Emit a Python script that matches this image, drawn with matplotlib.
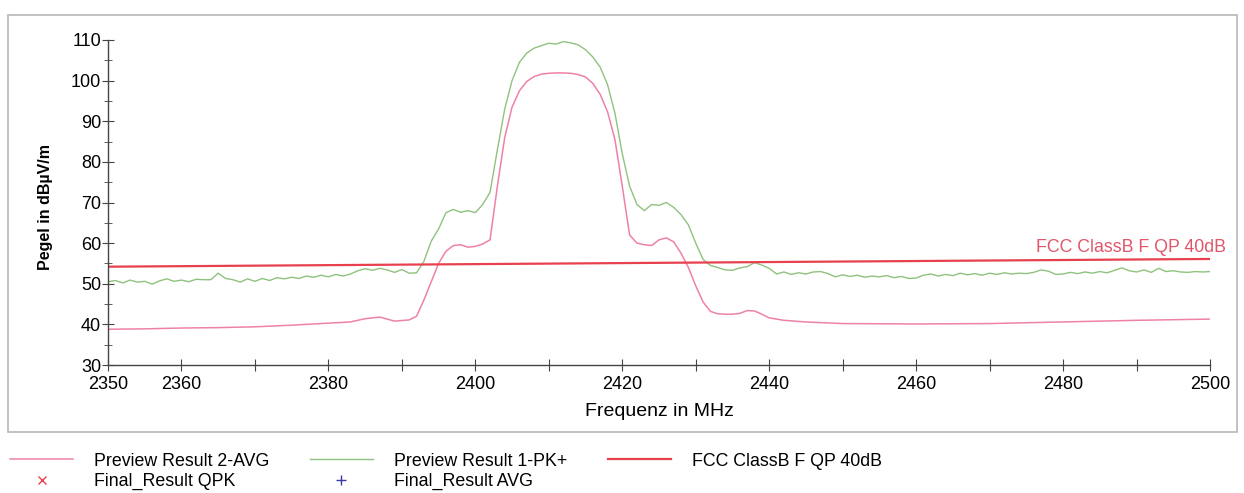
import numpy as np
import matplotlib.pyplot as plt
from matplotlib.patches import Rectangle
from matplotlib.ticker import MultipleLocator

plt.rcParams['font.family'] = ['Liberation Sans', 'DejaVu Sans']

# Preview Result 1-PK+ (green)
pk_freq = [2350, 2351, 2352, 2353, 2354, 2355, 2356, 2357, 2358, 2359,
           2360, 2361, 2362, 2363, 2364, 2365, 2366, 2367, 2368, 2369,
           2370, 2371, 2372, 2373, 2374, 2375, 2376, 2377, 2378, 2379,
           2380, 2381, 2382, 2383, 2384, 2385, 2386, 2387, 2388, 2389,
           2390, 2391, 2392, 2393, 2394, 2395, 2396, 2397, 2398, 2399,
           2400, 2401, 2402, 2403, 2404, 2405, 2406, 2407, 2408, 2409,
           2410, 2411, 2412, 2413, 2414, 2415, 2416, 2417, 2418, 2419,
           2420, 2421, 2422, 2423, 2424, 2425, 2426, 2427, 2428, 2429,
           2430, 2431, 2432, 2433, 2434, 2435, 2436, 2437, 2438, 2439,
           2440, 2441, 2442, 2443, 2444, 2445, 2446, 2447, 2448, 2449,
           2450, 2451, 2452, 2453, 2454, 2455, 2456, 2457, 2458, 2459,
           2460, 2461, 2462, 2463, 2464, 2465, 2466, 2467, 2468, 2469,
           2470, 2471, 2472, 2473, 2474, 2475, 2476, 2477, 2478, 2479,
           2480, 2481, 2482, 2483, 2484, 2485, 2486, 2487, 2488, 2489,
           2490, 2491, 2492, 2493, 2494, 2495, 2496, 2497, 2498, 2499, 2500]
pk_level = [50.5, 50.8, 50.2, 50.9, 50.4, 50.6, 49.9, 50.7, 51.2, 50.6,
            50.9, 50.5, 51.1, 51.0, 51.0, 52.6, 51.3, 51.0, 50.4, 51.2,
            50.6, 51.3, 50.8, 51.5, 51.2, 51.6, 51.3, 51.9, 51.6, 52.1,
            51.7, 52.3, 51.9, 52.4, 53.2, 53.7, 53.3, 53.8, 53.4, 52.8,
            53.5, 52.6, 52.7, 55.5, 60.5, 63.5, 67.5, 68.3, 67.6, 68.0,
            67.5, 69.5, 72.5, 83.0, 93.0, 100.0, 104.5, 106.8, 108.0, 108.6,
            109.2, 109.0, 109.6, 109.3, 108.8, 107.6, 105.8, 103.3, 99.0, 92.0,
            82.0, 74.0, 69.5, 68.0, 69.5, 69.3, 70.0, 68.8, 67.0, 64.5,
            60.0, 56.0, 54.5, 54.0, 53.4, 53.3, 53.9, 54.2, 55.2, 54.6,
            53.8, 52.4, 52.9, 52.3, 52.7, 52.4, 52.9, 53.0, 52.5, 51.7,
            52.2, 51.8, 52.1, 51.6, 51.9, 51.7, 52.0, 51.5, 51.8, 51.3,
            51.4, 52.1, 52.4, 51.9, 52.3, 52.0, 52.6, 52.2, 52.5, 52.1,
            52.6, 52.3, 52.7, 52.4, 52.6, 52.5, 52.8, 53.4, 53.1, 52.3,
            52.4, 52.8, 52.5, 52.9, 52.6, 53.0, 52.7, 53.3, 53.9, 53.2,
            52.9, 53.4, 52.8, 53.8, 53.0, 53.2, 52.9, 52.8, 53.0, 52.9, 53.0]

# Preview Result 2-AVG (pink)
avg_freq = [2350, 2355, 2360, 2365, 2370, 2375, 2380, 2383, 2385, 2387,
            2389, 2391, 2392, 2393, 2394, 2395, 2396, 2397, 2398, 2399,
            2400, 2401, 2402, 2403, 2404, 2405, 2406, 2407, 2408, 2409,
            2410, 2411, 2412, 2413, 2414, 2415, 2416, 2417, 2418, 2419,
            2420, 2421, 2422, 2423, 2424, 2425, 2426, 2427, 2428, 2429,
            2430, 2431, 2432, 2433, 2434, 2435, 2436, 2437, 2438, 2439,
            2440, 2442, 2445, 2450, 2460, 2470, 2480, 2490, 2500]
avg_level = [38.8, 38.9, 39.1, 39.2, 39.4, 39.8, 40.3, 40.6, 41.4, 41.8,
             40.8, 41.1, 42.0, 46.0, 50.5, 55.0, 58.0, 59.4, 59.6, 59.0,
             59.2, 59.8, 60.8, 74.0, 86.0, 93.5, 97.5, 99.8, 101.0, 101.6,
             101.8, 101.9, 101.9, 101.8, 101.5, 100.9, 99.3, 96.6, 92.3, 85.5,
             74.0, 62.0, 60.0, 59.6, 59.4, 60.8, 61.3, 60.3, 57.5, 54.0,
             49.5, 45.5, 43.2, 42.6, 42.5, 42.5, 42.7, 43.4, 43.3, 42.5,
             41.6, 41.0, 40.6, 40.2, 40.1, 40.2, 40.6, 41.0, 41.3]

# FCC ClassB F QP 40dB limit line
limit_freq = [2350, 2500]
limit_level = [54.2, 56.1]

x_ticks = list(range(2350, 2501, 10))
x_labels = ['2350', '2360', '', '2380', '', '2400', '', '2420', '',
            '2440', '', '2460', '', '2480', '', '2500']

fig = plt.figure(figsize=(12.44, 4.93), dpi=100)
fig.add_artist(Rectangle((8 / 1244, 1 - 432 / 493), 1229 / 1244, 417 / 493,
                         transform=fig.transFigure, fill=False,
                         edgecolor='#b8b8b8', linewidth=1.2))

ax = fig.add_axes([108 / 1244, 1 - 365 / 493, 1102 / 1244, 325 / 493])

pink = '#ee82a6'
green = '#8fc27e'
red = '#e8404f'

ax.plot(avg_freq, avg_level, color=pink, lw=1.1, label='Preview Result 2-AVG')
ax.plot([], [], 'x', color=red, markersize=6, label='Final_Result QPK')
ax.plot(pk_freq, pk_level, color=green, lw=1.0, label='Preview Result 1-PK+')
ax.plot([], [], '+', color='#3a3aa8', markersize=7, label='Final_Result AVG')
ax.plot(limit_freq, limit_level, color=red, lw=1.6, label='FCC ClassB F QP 40dB')

ax.text(2502.2, 58.8, 'FCC ClassB F QP 40dB', color='#e0566a', fontsize=12.8,
        ha='right', va='center', clip_on=False)

ax.set_xlim(2350, 2500)
ax.set_ylim(30, 110)
ax.set_xticks(x_ticks)
ax.set_xticklabels(x_labels)
ax.yaxis.set_major_locator(MultipleLocator(10))
ax.yaxis.set_minor_locator(MultipleLocator(5))

for s in ['top', 'right']:
    ax.spines[s].set_visible(False)
for s in ['left', 'bottom']:
    ax.spines[s].set_color('#444444')
    ax.spines[s].set_linewidth(1.0)

ax.tick_params(axis='both', which='both', direction='inout', color='#444444',
               labelsize=13)
ax.tick_params(axis='x', which='major', length=8, pad=4)
ax.tick_params(axis='y', which='major', length=8, pad=1)
ax.tick_params(axis='y', which='minor', length=6)

ax.set_ylabel('Pegel in dBµV/m', fontsize=11.5, fontweight='bold')
ax.yaxis.set_label_coords(-0.050, 0.485)
ax.set_xlabel('Frequenz in MHz', fontsize=14)
ax.xaxis.set_label_coords(0.5, -0.118)

fig.legend(loc='center left', bbox_to_anchor=(10 / 1244, 1 - 471.5 / 493),
           ncol=3, frameon=False, fontsize=12.8, borderpad=0, borderaxespad=0,
           handlelength=3.55, handletextpad=1.2, columnspacing=2.25,
           labelspacing=0.2)

fig.savefig('out.png', dpi=100)
